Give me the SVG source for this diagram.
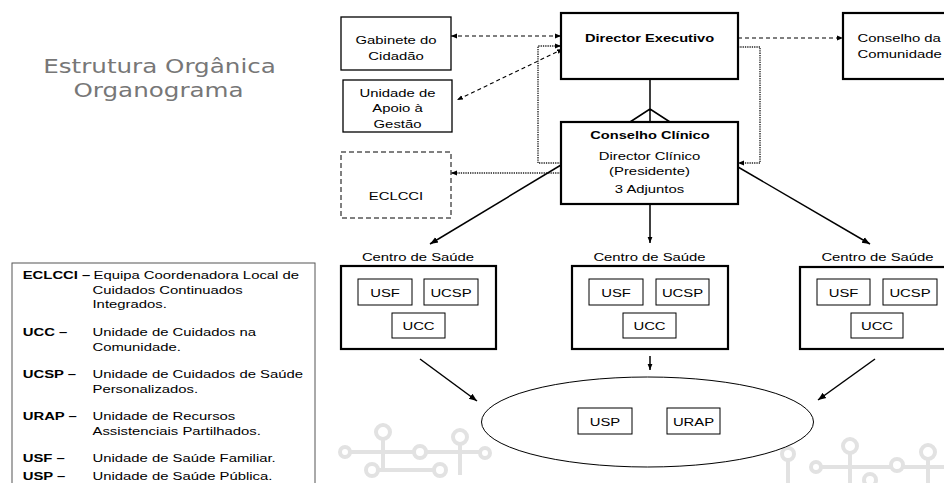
<svg xmlns="http://www.w3.org/2000/svg" width="944" height="483" viewBox="0 0 944 483">
<style>
.t{font-family:"Liberation Sans",Arial,sans-serif;font-size:11.7px;fill:#000}
.c{text-anchor:middle}
.b{font-weight:bold}
.box{fill:#fff;stroke:#000;stroke-width:1.3}
.thick{fill:#fff;stroke:#000;stroke-width:2.2}
.in{fill:#fff;stroke:#000;stroke-width:1}
.dash{fill:none;stroke:#000;stroke-width:1.1;stroke-dasharray:4 3}
.dot{fill:none;stroke:#222;stroke-width:1.4;stroke-dasharray:1.3 1}
.sol{fill:none;stroke:#000;stroke-width:1.5}
.wm{fill:#fff;stroke:#e2e2e2;stroke-width:4}
.wl{stroke:#e2e2e2;stroke-width:4}
</style>
<defs>
<marker id="s" viewBox="0 0 10 10" refX="10" refY="5" markerWidth="6" markerHeight="6" markerUnits="userSpaceOnUse" orient="auto-start-reverse"><path d="M0,1 L10,5 L0,9 z" fill="#000"/></marker>
<marker id="L" viewBox="0 0 10 10" refX="10" refY="5" markerWidth="8" markerHeight="8" markerUnits="userSpaceOnUse" orient="auto-start-reverse"><path d="M0,1 L10,5 L0,9 z" fill="#000"/></marker>
</defs>
<rect width="944" height="483" fill="#fff"/>
<g id="watermark">
<path class="wl" d="M345,452 H485 M383,432 V470 M460,437 V475 M372,470 H440"/>
<circle class="wm" cx="383" cy="432" r="7"/><circle class="wm" cx="345" cy="452" r="5"/>
<circle class="wm" cx="420" cy="452" r="6"/><circle class="wm" cx="372" cy="470" r="6"/>
<circle class="wm" cx="460" cy="437" r="7"/><circle class="wm" cx="485" cy="453" r="5"/>
<circle class="wm" cx="440" cy="470" r="6"/>
<path class="wl" d="M816,467 H945 M850,446 V483 M928,452 V483 M788,454 V483"/>
<circle class="wm" cx="788" cy="454" r="6"/><circle class="wm" cx="816" cy="467" r="5"/>
<circle class="wm" cx="850" cy="446" r="7"/><circle class="wm" cx="897" cy="465" r="6"/>
<circle class="wm" cx="928" cy="452" r="7"/><circle class="wm" cx="870" cy="480" r="6"/>
</g>
<g id="title" style="font-family:'DejaVu Sans',Verdana,sans-serif;font-size:20px;fill:#777;text-anchor:middle">
<text transform="translate(159.5 72.5) scale(1.23 1)">Estrutura Orgânica</text>
<text transform="translate(158.5 96.5) scale(1.23 1)">Organograma</text>
</g>
<g id="connectors">
<path class="dash" d="M451,36 H561" marker-start="url(#s)" marker-end="url(#s)"/>
<path class="dash" d="M738,38 H843" marker-end="url(#s)"/>
<path class="dash" d="M563,49 L457,100" marker-start="url(#s)" marker-end="url(#s)"/>
<path class="dot" d="M561,163 H538 V46 H561" marker-end="url(#s)"/>
<path class="dot" d="M738,47 H760 V163 H738" marker-end="url(#s)"/>
<path class="dot" d="M561,173 H451" marker-end="url(#s)"/>
<path class="sol" d="M650,79 V122 M630,122 L650,109 L670,122"/>
<path class="sol" d="M561,165 L430,244" marker-end="url(#L)"/>
<path class="sol" d="M738,167 L870,244" marker-end="url(#L)"/>
<path class="sol" d="M650,204 V243" marker-end="url(#s)"/>
<path class="sol" d="M420,359 L477,401" marker-end="url(#L)"/>
<path class="sol" d="M650,356 V370" marker-end="url(#s)"/>
<path class="sol" d="M875,359 L818,400" marker-end="url(#L)"/>
</g>
<g id="gabinete">
<rect class="box" x="341" y="17" width="110" height="53"/>
<text class="t c" transform="translate(396 44) scale(1.27 1)">Gabinete do</text>
<text class="t c" transform="translate(396 60) scale(1.27 1)">Cidadão</text>
</g>
<g id="uag">
<rect class="box" x="343" y="80" width="109" height="52"/>
<text class="t c" transform="translate(397.5 97) scale(1.27 1)">Unidade de</text>
<text class="t c" transform="translate(397.5 112) scale(1.27 1)">Apoio à</text>
<text class="t c" transform="translate(397.5 127.5) scale(1.27 1)">Gestão</text>
</g>
<g id="eclcci">
<rect x="341" y="152" width="110" height="66" fill="#fff" stroke="#000" stroke-width="1" stroke-dasharray="5 3"/>
<text class="t c" transform="translate(396 200) scale(1.27 1)">ECLCCI</text>
</g>
<g id="director">
<rect class="thick" x="561" y="13" width="177" height="66" stroke-width="2.5"/>
<text class="t c b" transform="translate(649.5 42) scale(1.25 1)">Director Executivo</text>
</g>
<g id="conselho-comunidade">
<rect class="thick" x="843" y="13" width="120" height="66"/>
<text class="t" transform="translate(857.5 42) scale(1.27 1)">Conselho da</text>
<text class="t" transform="translate(857.5 58) scale(1.27 1)">Comunidade</text>
</g>
<g id="conselho-clinico">
<rect class="thick" x="561" y="122" width="177" height="82"/>
<text class="t c b" transform="translate(650 139) scale(1.25 1)">Conselho Clínico</text>
<text class="t c" transform="translate(649.5 160) scale(1.27 1)">Director Clínico</text>
<text class="t c" transform="translate(649.5 175) scale(1.27 1)">(Presidente)</text>
<text class="t c" transform="translate(649.5 193) scale(1.27 1)">3 Adjuntos</text>
</g>
<g id="cs1">
<text class="t c" transform="translate(418 261) scale(1.27 1)">Centro de Saúde</text>
<rect class="thick" x="341" y="266" width="155" height="83"/>
<rect class="in" x="358" y="279" width="54" height="26"/>
<text class="t c" transform="translate(385 296.5) scale(1.27 1)">USF</text>
<rect class="in" x="424" y="279" width="54" height="26"/>
<text class="t c" transform="translate(451 296.5) scale(1.27 1)">UCSP</text>
<rect class="in" x="392" y="313" width="53" height="25"/>
<text class="t c" transform="translate(418.5 330) scale(1.27 1)">UCC</text>
</g>
<g id="cs2">
<text class="t c" transform="translate(649.5 261) scale(1.27 1)">Centro de Saúde</text>
<rect class="thick" x="572" y="266" width="156" height="83"/>
<rect class="in" x="589" y="279" width="54" height="26"/>
<text class="t c" transform="translate(616 296.5) scale(1.27 1)">USF</text>
<rect class="in" x="656" y="279" width="53" height="26"/>
<text class="t c" transform="translate(682.5 296.5) scale(1.27 1)">UCSP</text>
<rect class="in" x="623" y="313" width="53" height="25"/>
<text class="t c" transform="translate(649.5 330) scale(1.27 1)">UCC</text>
</g>
<g id="cs3">
<text class="t c" transform="translate(877.5 261) scale(1.27 1)">Centro de Saúde</text>
<rect class="thick" x="800" y="267" width="156" height="82"/>
<rect class="in" x="817" y="279" width="53" height="26"/>
<text class="t c" transform="translate(843.5 296.5) scale(1.27 1)">USF</text>
<rect class="in" x="883" y="279" width="54" height="26"/>
<text class="t c" transform="translate(910 296.5) scale(1.27 1)">UCSP</text>
<rect class="in" x="851" y="313" width="52" height="25"/>
<text class="t c" transform="translate(877 330) scale(1.27 1)">UCC</text>
</g>
<g id="ellipse">
<ellipse cx="647.5" cy="422" rx="166" ry="45" fill="#fff" stroke="#000" stroke-width="1"/>
<rect class="in" x="578" y="408" width="54" height="26"/>
<text class="t c" transform="translate(605 425.5) scale(1.27 1)">USP</text>
<rect class="in" x="667" y="408" width="53" height="26"/>
<text class="t c" transform="translate(693.5 425.5) scale(1.27 1)">URAP</text>
</g>
<g id="legend">
<rect x="12" y="263" width="303" height="240" fill="#fff" stroke="#555" stroke-width="1"/>
<text class="t b" transform="translate(22.7 279) scale(1.27 1)">ECLCCI –</text>
<text class="t" transform="translate(93.5 279) scale(1.27 1)">Equipa Coordenadora Local de</text>
<text class="t" transform="translate(92.5 293.5) scale(1.27 1)">Cuidados Continuados</text>
<text class="t" transform="translate(92.5 308) scale(1.27 1)">Integrados.</text>
<text class="t b" transform="translate(22.7 336) scale(1.27 1)">UCC –</text>
<text class="t" transform="translate(92.5 336) scale(1.27 1)">Unidade de Cuidados na</text>
<text class="t" transform="translate(92.5 351) scale(1.27 1)">Comunidade.</text>
<text class="t b" transform="translate(22.7 378) scale(1.27 1)">UCSP –</text>
<text class="t" transform="translate(92.5 378) scale(1.27 1)">Unidade de Cuidados de Saúde</text>
<text class="t" transform="translate(92.5 393) scale(1.27 1)">Personalizados.</text>
<text class="t b" transform="translate(22.7 420) scale(1.27 1)">URAP –</text>
<text class="t" transform="translate(92.5 420) scale(1.27 1)">Unidade de Recursos</text>
<text class="t" transform="translate(92.5 435) scale(1.27 1)">Assistenciais Partilhados.</text>
<text class="t b" transform="translate(22.7 461.5) scale(1.27 1)">USF –</text>
<text class="t" transform="translate(92.5 461.5) scale(1.27 1)">Unidade de Saúde Familiar.</text>
<text class="t b" transform="translate(22.7 480) scale(1.27 1)">USP –</text>
<text class="t" transform="translate(92.5 480) scale(1.27 1)">Unidade de Saúde Pública.</text>
</g>
</svg>
